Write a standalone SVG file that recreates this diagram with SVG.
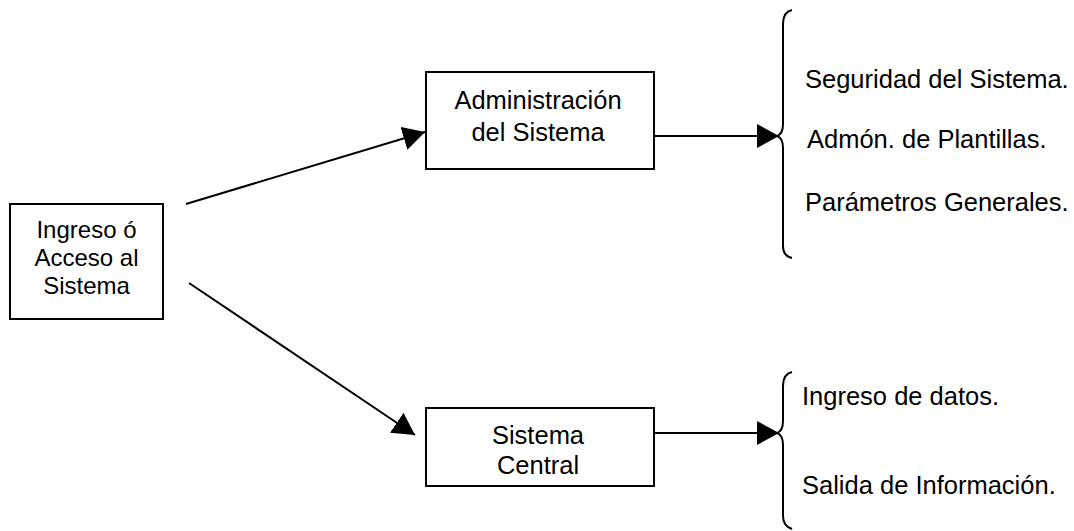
<svg xmlns="http://www.w3.org/2000/svg" width="1074" height="531" viewBox="0 0 1074 531">
  <style>
    .box { fill: #ffffff; stroke: #000000; stroke-width: 2; }
    .lbl { font-family: "Liberation Sans", Arial, sans-serif; font-size: 24px; fill: #000000; }
    .big { font-size: 25.5px; }
    .mid { text-anchor: middle; }
    .wire { fill: none; stroke: #000000; stroke-width: 2; }
    .brace { fill: none; stroke: #000000; stroke-width: 2; }
  </style>
  <defs>
    <marker id="arrow" markerUnits="userSpaceOnUse" markerWidth="24" markerHeight="24" refX="22" refY="12" orient="auto">
      <path d="M0,0 L22,12 L0,24 Z" fill="#000000"/>
    </marker>
  </defs>
  <rect width="1074" height="531" fill="#ffffff"/>

  <g id="connectors">
    <line class="wire" x1="186" y1="204" x2="425" y2="132" marker-end="url(#arrow)"/>
    <line class="wire" x1="189" y1="283" x2="415" y2="435" marker-end="url(#arrow)"/>
    <line class="wire" x1="652" y1="136" x2="779" y2="136" marker-end="url(#arrow)"/>
    <line class="wire" x1="652" y1="433" x2="779" y2="433" marker-end="url(#arrow)"/>
  </g>

  <g id="acceso">
    <rect class="box" x="10" y="204" width="153" height="115"/>
    <text class="lbl mid" x="86.5" y="238">Ingreso ó</text>
    <text class="lbl mid" x="86.5" y="266">Acceso al</text>
    <text class="lbl mid" x="86.5" y="294">Sistema</text>
  </g>

  <g id="administracion">
    <rect class="box" x="426" y="72" width="228" height="97"/>
    <text class="lbl big mid" x="538" y="109">Administración</text>
    <text class="lbl big mid" x="538" y="141">del Sistema</text>
  </g>

  <g id="central">
    <rect class="box" x="426" y="408" width="228" height="78"/>
    <text class="lbl big mid" x="538" y="444">Sistema</text>
    <text class="lbl big mid" x="538" y="474">Central</text>
  </g>

  <g id="admin-items">
    <path class="brace" d="M792,10 Q783,12 783,24 L783,124 Q783,134 777,136 Q783,138 783,148 L783,246 Q783,256 792,258"/>
    <text class="lbl big" x="805" y="88">Seguridad del Sistema.</text>
    <text class="lbl big" x="807" y="148">Admón. de Plantillas.</text>
    <text class="lbl big" x="805" y="211">Parámetros Generales.</text>
  </g>

  <g id="central-items">
    <path class="brace" d="M792,372 Q783,374 783,386 L783,421 Q783,431 777,433 Q783,435 783,445 L783,516 Q783,526 792,529"/>
    <text class="lbl big" x="802" y="405">Ingreso de datos.</text>
    <text class="lbl big" x="802" y="494">Salida de Información.</text>
  </g>
</svg>
